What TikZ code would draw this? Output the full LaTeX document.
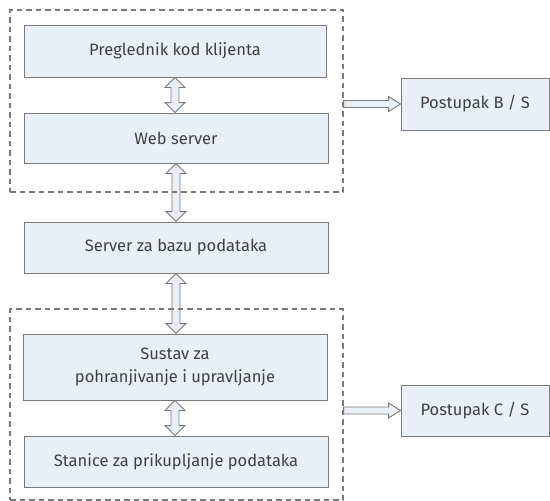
\documentclass[tikz,border=0pt]{standalone}
\usepackage{fontspec}
\setmainfont{Fira Sans}
\usetikzlibrary{calc,positioning}
\definecolor{boxfill}{HTML}{E9EFF7}
\definecolor{boxline}{HTML}{7A7A7A}
\definecolor{txtgray}{HTML}{404040}
\tikzset{layer/.style={draw=boxline, line width=0.9pt, fill=boxfill, text=txtgray, align=center, inner sep=2pt, font=\fontsize{16.5}{23}\selectfont}}
\tikzset{group/.style={draw=boxline, line width=1.1pt, dash pattern=on 5.5pt off 4pt, inner sep=0pt}}
\tikzset{fatarr/.style={draw=boxline, line width=0.9pt, fill=boxfill, line join=miter}}
% double arrow between upper node #1 and lower node #2
\newcommand{\dblarr}[2]{%
  \draw[fatarr] let \p1=(#1), \p2=(#2) in
    (\x1,\y1) -- (\x1+10pt,\y1-10pt) -- (\x1+4pt,\y1-10pt) -- (\x1+4pt,\y2+10pt)
    -- (\x1+10pt,\y2+10pt) -- (\x1,\y2) -- (\x1-10pt,\y2+10pt) -- (\x1-4pt,\y2+10pt)
    -- (\x1-4pt,\y1-10pt) -- (\x1-10pt,\y1-10pt) -- cycle;}
% single arrow to the right, from #1 to #2
\newcommand{\rarr}[2]{%
  \draw[fatarr] let \p1=(#1), \p2=(#2) in
    (\x1,\y2+3.5pt) -- (\x2-12pt,\y2+3.5pt) -- (\x2-12pt,\y2+7.5pt) -- (\x2,\y2)
    -- (\x2-12pt,\y2-7.5pt) -- (\x2-12pt,\y2-3.5pt) -- (\x1,\y2-3.5pt) -- cycle;}
\begin{document}
\begin{tikzpicture}[x=1pt, y=-1pt]
	\useasboundingbox (0,0) rectangle (550,501);
	
	\node[layer, minimum width=302pt, minimum height=52pt] (pk) at (175,51) {Preglednik kod klijenta};
	\node[layer, minimum width=304pt, minimum height=50pt] (ws) at (176,138) {Web server};
	\node[layer, minimum width=304pt, minimum height=51pt] (sb) at (176,247.5) {Server za bazu podataka};
	\node[layer, minimum width=304pt, minimum height=66pt] (su) at (175,367) {Sustav za\\pohranjivanje i upravljanje};
	\node[layer, minimum width=304pt, minimum height=51pt] (st) at (176,461.5) {Stanice za prikupljanje podataka};
	
	\node[layer, minimum width=148pt, minimum height=52pt] (pbs) at (475,104) {Postupak B / S};
	\node[layer, minimum width=148pt, minimum height=51pt] (pcs) at (475,410.5) {Postupak C / S};
	
	\dblarr{pk.south}{ws.north}
	\dblarr{ws.south}{sb.north}
	\dblarr{sb.south}{su.north}
	\dblarr{su.south}{st.north}
	
	\node[group, minimum width=333pt, minimum height=182pt] (gtop) at (176.5,101) {};
	\node[group, minimum width=333pt, minimum height=191pt] (gbot) at (176.5,404.5) {};
	
	\rarr{gtop.east}{pbs.west}
	\rarr{gbot.east}{pcs.west}
\end{tikzpicture}
\end{document}
